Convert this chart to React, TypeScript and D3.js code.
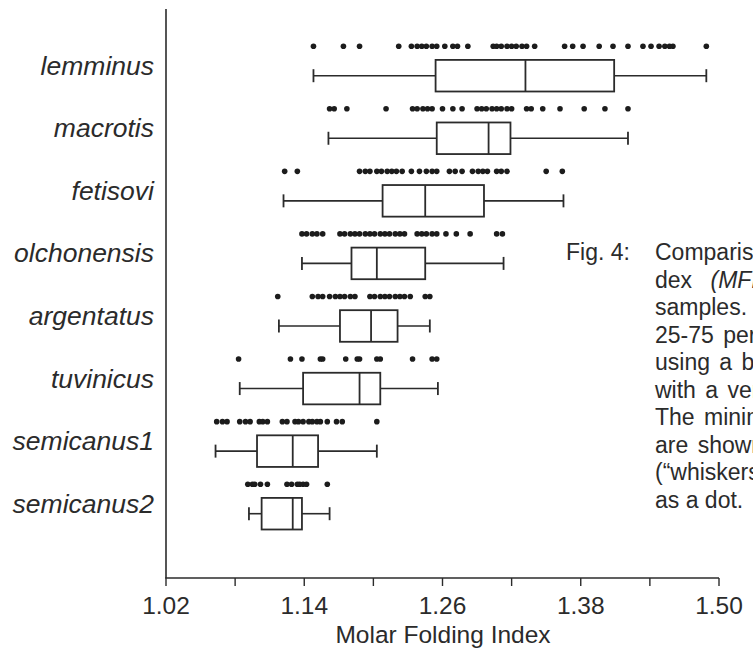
import React from 'react'
import * as d3 from 'd3'

// species in plotting order (top to bottom)
const species = ['lemminus', 'macrotis', 'fetisovi', 'olchonensis', 'argentatus', 'tuvinicus', 'semicanus1', 'semicanus2']

// box-plot statistics
const whiskerLow = [1.148, 1.161, 1.122, 1.138, 1.118, 1.084, 1.063, 1.092]
const quartile1 = [1.254, 1.255, 1.208, 1.181, 1.171, 1.139, 1.099, 1.103]
const medians = [1.332, 1.300, 1.245, 1.203, 1.198, 1.188, 1.130, 1.130]
const quartile3 = [1.409, 1.319, 1.296, 1.245, 1.221, 1.206, 1.152, 1.138]
const whiskerHigh = [1.489, 1.421, 1.365, 1.313, 1.249, 1.256, 1.203, 1.162]

// individual observations (dots above each box)
const obsLemminus = [1.148, 1.174, 1.188, 1.222, 1.233, 1.238, 1.242, 1.246, 1.251, 1.255, 1.262, 1.269, 1.273, 1.282, 1.304, 1.307, 1.311, 1.316, 1.320, 1.324, 1.329, 1.333, 1.340, 1.366, 1.373, 1.382, 1.396, 1.408, 1.421, 1.434, 1.441, 1.448, 1.453, 1.457, 1.460, 1.489]
const obsMacrotis = [1.162, 1.166, 1.177, 1.211, 1.234, 1.238, 1.243, 1.247, 1.251, 1.260, 1.269, 1.277, 1.290, 1.294, 1.298, 1.303, 1.307, 1.311, 1.316, 1.320, 1.333, 1.337, 1.347, 1.362, 1.383, 1.401, 1.421]
const obsFetisovi = [1.123, 1.134, 1.188, 1.193, 1.197, 1.203, 1.207, 1.212, 1.216, 1.220, 1.225, 1.233, 1.240, 1.246, 1.251, 1.255, 1.266, 1.271, 1.277, 1.286, 1.291, 1.295, 1.299, 1.307, 1.311, 1.316, 1.350, 1.364]
const obsOlchonensis = [1.138, 1.142, 1.147, 1.151, 1.156, 1.171, 1.175, 1.180, 1.184, 1.188, 1.193, 1.197, 1.201, 1.206, 1.210, 1.214, 1.219, 1.223, 1.227, 1.238, 1.242, 1.246, 1.251, 1.255, 1.263, 1.272, 1.284, 1.307, 1.312]
const obsArgentatus = [1.117, 1.147, 1.152, 1.156, 1.162, 1.167, 1.171, 1.175, 1.180, 1.184, 1.197, 1.201, 1.206, 1.210, 1.214, 1.219, 1.223, 1.227, 1.232, 1.245, 1.249]
const obsTuvinicus = [1.083, 1.128, 1.138, 1.154, 1.156, 1.176, 1.186, 1.188, 1.203, 1.206, 1.234, 1.251, 1.255]
const obsSemicanus1 = [1.064, 1.069, 1.073, 1.084, 1.089, 1.093, 1.101, 1.104, 1.108, 1.121, 1.125, 1.132, 1.135, 1.139, 1.144, 1.147, 1.151, 1.154, 1.160, 1.168, 1.173, 1.203]
const obsSemicanus2 = [1.091, 1.095, 1.097, 1.102, 1.108, 1.125, 1.129, 1.134, 1.136, 1.139, 1.142, 1.160]
const observations = [obsLemminus, obsMacrotis, obsFetisovi, obsOlchonensis, obsArgentatus, obsTuvinicus, obsSemicanus1, obsSemicanus2]

const tickValues = [1.02, 1.08, 1.14, 1.20, 1.26, 1.32, 1.38, 1.44, 1.50]
const tickLabels = ['1.02', '', '1.14', '', '1.26', '', '1.38', '', '1.50']

const font = 'Liberation Sans, Arial, Helvetica, sans-serif'
const ink = '#2b2b2b'

function App() {
  const width = 753,
    height = 648,
    axisY = 578,
    boxH = 31.6

  const x = d3.scaleLinear().domain([1.02, 1.50]).range([166, 719])
  const y = d3.scalePoint<string>().domain(species).range([75.7, 513.7])

  const capX = 655,
    capY0 = 260,
    capStep = 27.5

  return (
    <svg width={width} height={height} style={{ position: 'absolute', left: 0, top: 0, background: '#fff' }}>
      {/* axes */}
      <line x1={x(1.02)} x2={x(1.02)} y1={9} y2={axisY} stroke={ink} strokeWidth={1.6} />
      <line x1={x(1.02) - 0.8} x2={x(1.50)} y1={axisY} y2={axisY} stroke={ink} strokeWidth={1.6} />
      {tickValues.map((t, i) => (
        <g key={i}>
          <line x1={x(t)} x2={x(t)} y1={axisY} y2={axisY + 8} stroke={ink} strokeWidth={1.4} />
          {tickLabels[i] && (
            <text x={x(t)} y={axisY + 36} textAnchor='middle' fontFamily={font} fontSize={24.5} fill={ink}>{tickLabels[i]}</text>
          )}
        </g>
      ))}
      <text x={443} y={643} textAnchor='middle' fontFamily={font} fontSize={24.5} fill={ink}>Molar Folding Index</text>

      {/* boxes */}
      {species.map((s, i) => {
        const cy = y(s)!
        return (
          <g key={s}>
            <text x={154} y={cy - 1} textAnchor='end' fontFamily={font} fontStyle='italic' fontSize={26.5} fill={ink}>{s}</text>
            {observations[i].map((v, j) => (
              <circle key={j} cx={x(v)} cy={cy - 29.5} r={2.8} fill='#1c1c1c' />
            ))}
            <line x1={x(whiskerLow[i])} x2={x(quartile1[i])} y1={cy} y2={cy} stroke={ink} strokeWidth={1.6} />
            <line x1={x(quartile3[i])} x2={x(whiskerHigh[i])} y1={cy} y2={cy} stroke={ink} strokeWidth={1.6} />
            <line x1={x(whiskerLow[i])} x2={x(whiskerLow[i])} y1={cy - 6.5} y2={cy + 6.5} stroke={ink} strokeWidth={1.8} />
            <line x1={x(whiskerHigh[i])} x2={x(whiskerHigh[i])} y1={cy - 6.5} y2={cy + 6.5} stroke={ink} strokeWidth={1.8} />
            <rect x={x(quartile1[i])} y={cy - boxH / 2} width={x(quartile3[i]) - x(quartile1[i])} height={boxH} fill='#fff' stroke={ink} strokeWidth={1.8} />
            <line x1={x(medians[i])} x2={x(medians[i])} y1={cy - boxH / 2} y2={cy + boxH / 2} stroke={ink} strokeWidth={1.8} />
          </g>
        )
      })}

      {/* figure caption, cut by the page edge as in the source */}
      <g fontFamily={font} fontSize={23} fill={ink}>
        <text x={566} y={capY0}>Fig. 4:</text>
        <text x={capX} y={capY0}>Comparison</text>
        <text x={capX} y={capY0 + capStep} style={{ wordSpacing: 12 }}>dex <tspan fontStyle='italic'>(MFI</tspan>)</text>
        <text x={capX} y={capY0 + capStep * 2}>samples.</text>
        <text x={capX} y={capY0 + capStep * 3} style={{ wordSpacing: 3 }}>25-75 percentile</text>
        <text x={capX} y={capY0 + capStep * 4} style={{ wordSpacing: 3 }}>using a box</text>
        <text x={capX} y={capY0 + capStep * 5} style={{ wordSpacing: 3 }}>with a vertical</text>
        <text x={capX} y={capY0 + capStep * 6} style={{ wordSpacing: 3 }}>The minimum</text>
        <text x={capX} y={capY0 + capStep * 7} style={{ wordSpacing: 3 }}>are shown</text>
        <text x={capX} y={capY0 + capStep * 8}>(“whiskers”)</text>
        <text x={capX} y={capY0 + capStep * 9}>as a dot.</text>
      </g>
    </svg>
  )
}

export default App
